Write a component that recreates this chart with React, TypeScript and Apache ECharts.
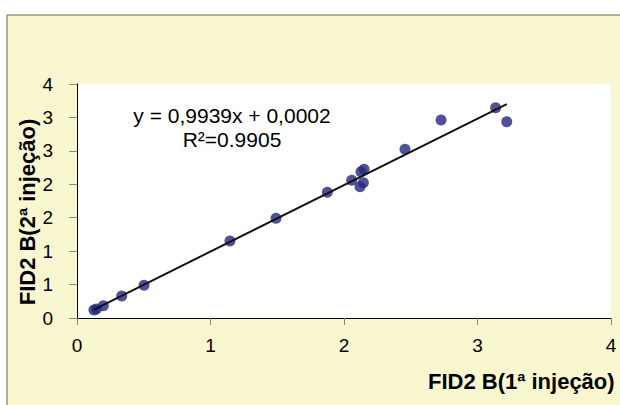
import React, { useEffect, useRef } from "react";
import * as echarts from "echarts";

// FID2 B (1ª injeção) vs FID2 B (2ª injeção)
const xValues = [0.127, 0.145, 0.197, 0.335, 0.502, 1.146, 1.491, 1.875, 2.058, 2.127, 2.15, 2.145, 2.12, 2.457, 2.727, 3.136, 3.219];
const yValues = [0.12, 0.135, 0.184, 0.329, 0.489, 1.152, 1.491, 1.88, 2.06, 2.188, 2.224, 2.024, 1.964, 2.523, 2.961, 3.145, 2.936];
const fitCoefficients = [0.9939, 0.0002]; // slope, intercept
const equationLines = ["y = 0,9939x + 0,0002", "R²=0.9905"];
const xTitle = "FID2 B(1ª injeção)";
const yTitle = "FID2 B(2ª injeção)";

const FONT = "'Liberation Sans', Arial, sans-serif";

export default function App() {
  const ref = useRef<HTMLDivElement>(null);
  useEffect(() => {
    if (!ref.current) return;
    const chart = echarts.init(ref.current, undefined, { renderer: "svg" });
    const points = xValues.map((x, i) => [x, yValues[i]]);
    const xMin = Math.min(...xValues);
    const xMax = Math.max(...xValues);
    const [m, b] = fitCoefficients;
    const fit = [
      [xMin, m * xMin + b],
      [xMax, m * xMax + b],
    ];
    chart.setOption({
      animation: false,
      backgroundColor: "#ffffff",
      grid: {
        left: 77,
        right: 9,
        top: 84,
        bottom: 87,
        show: true,
        backgroundColor: "#ffffff",
        borderWidth: 0,
      },
      xAxis: {
        type: "value",
        min: 0,
        max: 4,
        interval: 1,
        axisLine: { show: true, lineStyle: { color: "#000", width: 1 } },
        axisTick: { show: true, length: 7, lineStyle: { color: "#888" } },
        splitLine: { show: false },
        axisLabel: { color: "#000", fontSize: 19, fontFamily: FONT, margin: 18 },
      },
      yAxis: {
        type: "value",
        min: 0,
        max: 3.5,
        interval: 0.5,
        axisLine: { show: true, lineStyle: { color: "#000", width: 1 } },
        axisTick: { show: true, length: 8, lineStyle: { color: "#888" } },
        splitLine: { show: false },
        axisLabel: {
          color: "#000",
          fontSize: 19,
          fontFamily: FONT,
          margin: 24,
          formatter: (v: number) => String(Math.round(v)),
        },
      },
      graphic: [
        {
          type: "rect",
          z: -100,
          shape: { x: 7, y: 15, width: 700, height: 500 },
          style: { fill: "#f9f7cf", stroke: "#66664d", lineWidth: 1 },
          silent: true,
        },
        {
          type: "text",
          x: 232,
          y: 115,
          style: {
            text: equationLines[0],
            fill: "#000",
            font: `21px ${FONT}`,
            textAlign: "center",
            textVerticalAlign: "middle",
          },
        },
        {
          type: "text",
          x: 232,
          y: 139,
          style: {
            text: equationLines[1],
            fill: "#000",
            font: `21px ${FONT}`,
            textAlign: "center",
            textVerticalAlign: "middle",
          },
        },
        {
          type: "text",
          x: 428,
          y: 381,
          style: {
            text: xTitle,
            fill: "#000",
            font: `bold 22px ${FONT}`,
            textAlign: "left",
            textVerticalAlign: "middle",
          },
        },
        {
          type: "text",
          x: 27,
          y: 212,
          rotation: Math.PI / 2,
          style: {
            text: yTitle,
            fill: "#000",
            font: `bold 22px ${FONT}`,
            textAlign: "center",
            textVerticalAlign: "middle",
          },
        },
      ],
      series: [
        {
          type: "scatter",
          data: points,
          symbol: "circle",
          symbolSize: 11,
          itemStyle: { color: "#262680" },
          z: 2,
        },
        {
          type: "line",
          data: fit,
          showSymbol: false,
          symbol: "none",
          lineStyle: { color: "#111", width: 2 },
          z: 3,
        },
      ],
    });
    return () => chart.dispose();
  }, []);
  return (
    <div
      ref={ref}
      style={{ position: "absolute", left: 0, top: 0, width: 620, height: 405 }}
    />
  );
}
